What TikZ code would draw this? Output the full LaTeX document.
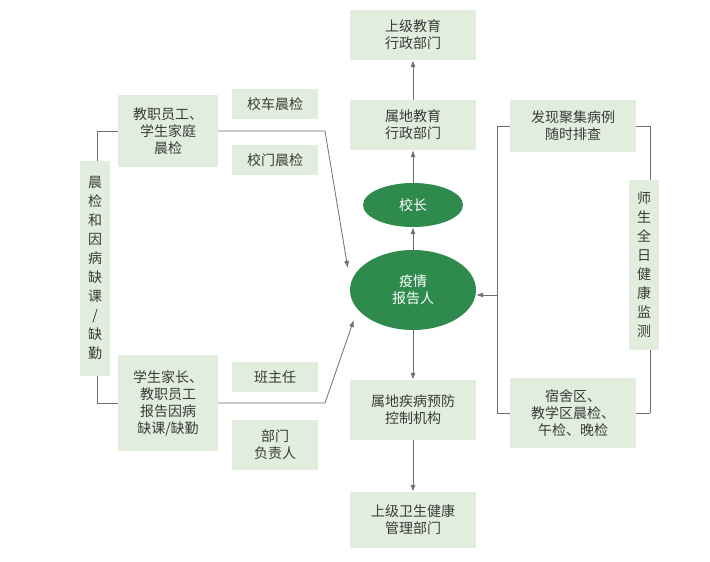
\documentclass[tikz,border=0pt]{standalone}
\usepackage{fontspec}
\setmainfont{Noto Sans CJK SC}
\usetikzlibrary{calc,positioning,shapes.geometric,arrows.meta}
\definecolor{boxfill}{HTML}{E2EEDD}
\definecolor{ovalfill}{HTML}{2F8A4E}
\definecolor{linec}{HTML}{6E6E6E}
\definecolor{textc}{HTML}{3A3A3A}
\tikzset{
    infobox/.style={fill=boxfill, text=textc, inner sep=2pt, align=center, font=\fontsize{14}{17}\selectfont},
    tallbox/.style={infobox, text width=16, minimum width=30, inner sep=7pt, font=\fontsize{14}{19}\selectfont},
    keyoval/.style={ellipse, fill=ovalfill, text=white, align=center, font=\fontsize{14}{17}\selectfont},
    link/.style={draw=linec, line width=0.8pt},
    flow/.style={link, -{Latex[length=7pt,width=5pt]}}
}
\begin{document}
\begin{tikzpicture}[x=1pt,y=-1pt]
\useasboundingbox (0,0) rectangle (710,562);
% centre column
\node[infobox, minimum width=126, minimum height=50] (eduup) at (413,35) {上级教育\\行政部门};
\node[infobox, minimum width=126, minimum height=50] (edulocal) at (413,125) {属地教育\\行政部门};
\node[keyoval, minimum width=100, minimum height=44] (head) at (413,205) {校长};
\node[keyoval, minimum width=126, minimum height=80] (reporter) at (413,290) {疫情\\报告人};
\node[infobox, minimum width=126, minimum height=60] (cdc) at (413,410) {属地疾病预防\\控制机构};
\node[infobox, minimum width=126, minimum height=56] (healthup) at (413,520) {上级卫生健康\\管理部门};
% left and right frames, drawn under the boxes
\coordinate (lstaff) at (97,131);
\coordinate (lparent) at (97,403);
\coordinate (rtop) at (650,126);
\coordinate (rbot) at (650,413);
\coordinate (mtop) at (497,126);
\coordinate (mbot) at (497,413);
\coordinate (mmid) at (497,295);
\draw[link] (lstaff) -- (lparent);
\draw[link] (rtop) -- (rbot);
\draw[link] (mtop) -- (mbot);
% left side
\node[infobox, minimum width=100, minimum height=72] (staff) at (168,131) {教职员工、\\学生家庭\\晨检};
\node[infobox, minimum width=86, minimum height=30] (bus) at (275,104) {校车晨检};
\node[infobox, minimum width=86, minimum height=30] (gate) at (275,160) {校门晨检};
\node[tallbox, minimum height=215] (absent) at (95,268) {晨\\检\\和\\因\\病\\缺\\课\\/\\缺\\勤};
\node[infobox, minimum width=100, minimum height=96] (parents) at (168,403) {学生家长、\\教职员工\\报告因病\\缺课/缺勤};
\node[infobox, minimum width=86, minimum height=30] (teacher) at (275,377) {班主任};
\node[infobox, minimum width=86, minimum height=50] (dept) at (275,445) {部门\\负责人};
% right side
\node[infobox, minimum width=126, minimum height=52] (cluster) at (573,126) {发现聚集病例\\随时排查};
\node[tallbox, minimum height=170] (allday) at (644,265) {师\\生\\全\\日\\健\\康\\监\\测};
\node[infobox, minimum width=126, minimum height=70] (dorm) at (573,413) {宿舍区、\\教学区晨检、\\午检、晚检};
% connectors
\draw[link] (staff.west) -- (lstaff);
\draw[link] (parents.west) -- (lparent);
\draw[link] (cluster.east) -- (rtop);
\draw[link] (dorm.east) -- (rbot);
\draw[link] (cluster.west) -- (mtop);
\draw[link] (dorm.west) -- (mbot);
\draw[flow] (staff.east) -- (325,131) -- ($(reporter.west)+(-2,-22)$);
\draw[flow] (parents.east) -- (325,403) -- ($(reporter.west)+(4,30)$);
\draw[flow] (mmid) -- (reporter.east |- mmid);
\draw[flow] (reporter) -- (head);
\draw[flow] (head) -- (edulocal);
\draw[flow] (edulocal) -- (eduup);
\draw[flow] (reporter) -- (cdc);
\draw[flow] (cdc) -- (healthup);
\end{tikzpicture}
\end{document}
